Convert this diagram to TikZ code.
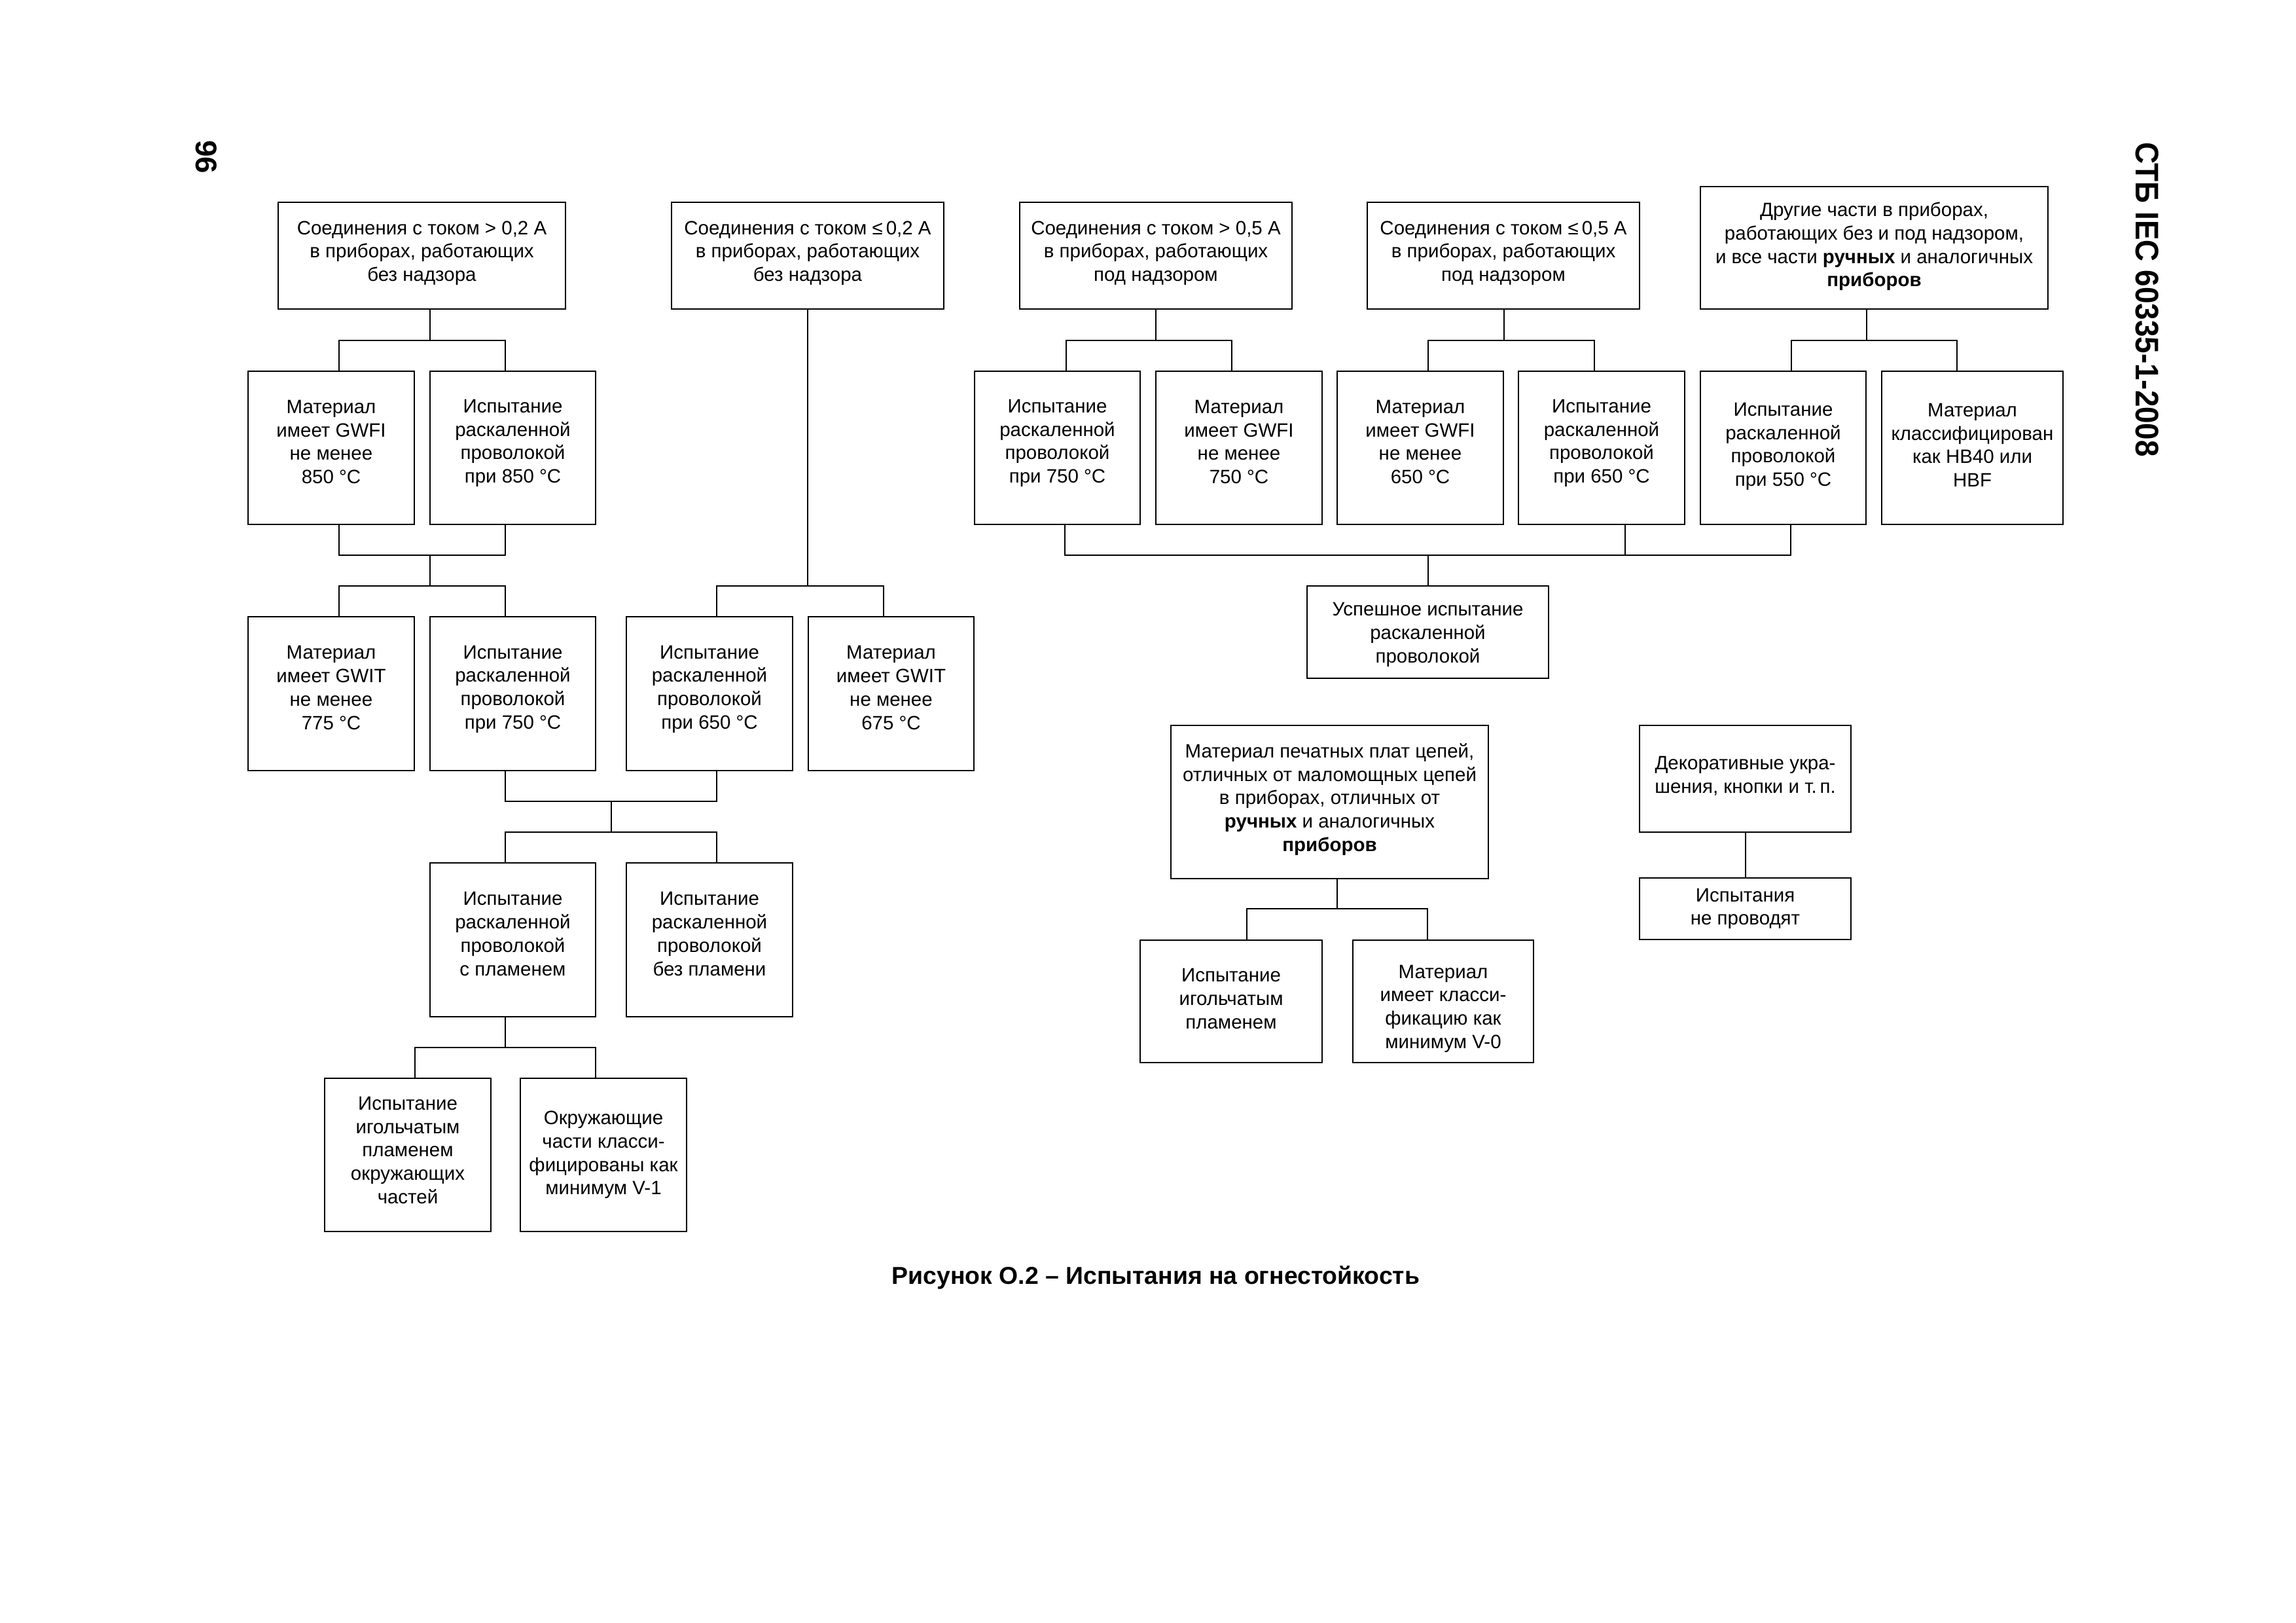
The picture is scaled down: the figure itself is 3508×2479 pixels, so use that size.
\documentclass[tikz,border=0pt]{standalone}
\usepackage{fontspec}
\setmainfont{Liberation Sans}
\newlength\pxu \setlength\pxu{0.0846667mm}
\newcommand\fs{\fontsize{7.1}{8.6}\selectfont}
% name, x1, y1, x2, y2, text shift (px, down), text
\newcommand\bnode[7]{%
  \node[box, minimum width={(#4-#2)*\pxu}, minimum height={(#5-#3)*\pxu}] (#1) at ({(#2+#4)/2},{(#3+#5)/2}) {};
  \node[lbl] (#1t) at ({(#2+#4)/2},{(#3+#5)/2+#6}) {#7};}
\tikzset{
  box/.style={draw, line width=0.5pt, inner sep=0pt},
  lbl/.style={inner sep=0pt, align=center, font=\fs},
  conn/.style={line width=0.5pt},
}
\begin{document}
\begin{tikzpicture}[x=\pxu, y=-\pxu]
\useasboundingbox (0,0) rectangle (3508,2479);
% page number and header
\node[rotate=-90, font=\bfseries\fontsize{11}{13}\selectfont, inner sep=0pt] (pg) at (315,240) {96};
\node[rotate=-90, font=\bfseries\fontsize{12}{14}\selectfont\addfontfeature{FakeStretch=0.92}, inner sep=0pt] (hdr) at (3281,458) {СТБ IEC 60335-1-2008};
% top row
\bnode{A1}{425}{309}{864}{472}{-4}{Соединения с током > 0,2 А\\в приборах, работающих\\без надзора}
\bnode{A2}{1026}{309}{1442}{472}{-4}{Соединения с током ≤\,0,2 А\\в приборах, работающих\\без надзора}
\bnode{A3}{1558}{309}{1974}{472}{-4}{Соединения с током > 0,5 А\\в приборах, работающих\\под надзором}
\bnode{A4}{2089}{309}{2505}{472}{-4}{Соединения с током ≤\,0,5 А\\в приборах, работающих\\под надзором}
\bnode{A5}{2598}{285}{3129}{472}{-2}{Другие части в приборах,\\работающих без и под надзором,\\и все части \textbf{ручных} и аналогичных\\\textbf{приборов}}
% row 2
\bnode{B1}{379}{567}{633}{801}{-9}{Материал\\имеет GWFI\\не менее\\850 °C}
\bnode{B2}{657}{567}{910}{801}{-7}{Испытание\\раскаленной\\проволокой\\при 850 °C}
\bnode{B3}{1489}{567}{1742}{801}{-7}{Испытание\\раскаленной\\проволокой\\при 750 °C}
\bnode{B4}{1766}{567}{2020}{801}{-9}{Материал\\имеет GWFI\\не менее\\750 °C}
\bnode{B5}{2043}{567}{2297}{801}{-9}{Материал\\имеет GWFI\\не менее\\650 °C}
\bnode{B6}{2320}{567}{2574}{801}{-7}{Испытание\\раскаленной\\проволокой\\при 650 °C}
\bnode{B7}{2598}{567}{2851}{801}{-2}{Испытание\\раскаленной\\проволокой\\при 550 °C}
\bnode{B8}{2875}{567}{3152}{801}{-4}{Материал\\классифицирован\\как HB40 или\\HBF}
% row 3
\bnode{C1}{379}{942}{633}{1177}{-9}{Материал\\имеет GWIT\\не менее\\775 °C}
\bnode{C2}{657}{942}{910}{1177}{-7}{Испытание\\раскаленной\\проволокой\\при 750 °C}
\bnode{C3}{957}{942}{1211}{1177}{-7}{Испытание\\раскаленной\\проволокой\\при 650 °C}
\bnode{C4}{1235}{942}{1488}{1177}{-9}{Материал\\имеет GWIT\\не менее\\675 °C}
% row 4
\bnode{D1}{657}{1318}{910}{1553}{-9}{Испытание\\раскаленной\\проволокой\\с пламенем}
\bnode{D2}{957}{1318}{1211}{1553}{-9}{Испытание\\раскаленной\\проволокой\\без пламени}
% row 5
\bnode{E1}{496}{1647}{750}{1881}{-7}{Испытание\\игольчатым\\пламенем\\окружающих\\частей}
\bnode{E2}{795}{1647}{1049}{1881}{0}{Окружающие\\части класси-\\фицированы как\\минимум V-1}
% right lower part
\bnode{S}{1997}{895}{2366}{1036}{4}{Успешное испытание\\раскаленной\\проволокой}
\bnode{F1}{1789}{1108}{2274}{1342}{-4}{Материал печатных плат цепей,\\отличных от маломощных цепей\\в приборах, отличных от\\\textbf{ручных} и аналогичных\\\textbf{приборов}}
\bnode{G1}{1742}{1436}{2020}{1623}{-4}{Испытание\\игольчатым\\пламенем}
\bnode{G2}{2067}{1436}{2343}{1623}{11}{Материал\\имеет класси-\\фикацию как\\минимум V-0}
\bnode{F2}{2505}{1108}{2828}{1271}{-4}{Декоративные укра-\\шения, кнопки и т.\,п.}
\bnode{G3}{2505}{1341}{2828}{1435}{0}{Испытания\\не проводят}
% caption
\node[font=\bfseries\fontsize{9}{11}\selectfont, inner sep=0pt] (cap) at (1766,1951) {Рисунок О.2 – Испытания на огнестойкость};
% junction coordinates
\coordinate (a1j) at (657,520); \coordinate (a1l) at (518,520); \coordinate (a1r) at (772,520);
\coordinate (m1l) at (518,848); \coordinate (m1r) at (772,848); \coordinate (m1j) at (657,848);
\coordinate (c1l) at (518,895); \coordinate (c1r) at (772,895); \coordinate (c1j) at (657,895);
\coordinate (a2j) at (1234,895); \coordinate (a2l) at (1095,895); \coordinate (a2r) at (1350,895);
\coordinate (m2l) at (772,1224); \coordinate (m2r) at (1095,1224); \coordinate (m2j) at (934,1224);
\coordinate (d1l) at (772,1271); \coordinate (d1r) at (1095,1271); \coordinate (d1j) at (934,1271);
\coordinate (e1j) at (772,1600); \coordinate (e1l) at (634,1600); \coordinate (e1r) at (910,1600);
\coordinate (a3j) at (1766,520); \coordinate (a3l) at (1629,520); \coordinate (a3r) at (1882,520);
\coordinate (a4j) at (2298,520); \coordinate (a4l) at (2182,520); \coordinate (a4r) at (2436,520);
\coordinate (a5j) at (2852,520); \coordinate (a5l) at (2737,520); \coordinate (a5r) at (2990,520);
\coordinate (sl) at (1627,848); \coordinate (sm) at (2483,848); \coordinate (sr) at (2736,848); \coordinate (sj) at (2182,848);
\coordinate (f1j) at (2043,1388); \coordinate (f1l) at (1905,1388); \coordinate (f1r) at (2181,1388);
\coordinate (f2j) at (2667,1300);
% connectors
\draw[conn] (A1.south -| a1j) -- (a1j);
\draw[conn] (B1.north -| a1l) |- (a1r) -- (B2.north -| a1r);
\draw[conn] (B1.south -| m1l) |- (m1r) -- (B2.south -| m1r);
\draw[conn] (m1j) -- (c1j);
\draw[conn] (C1.north -| c1l) |- (c1r) -- (C2.north -| c1r);
\draw[conn] (A2.south -| a2j) -- (a2j);
\draw[conn] (C3.north -| a2l) |- (a2r) -- (C4.north -| a2r);
\draw[conn] (C2.south -| m2l) |- (m2r) -- (C3.south -| m2r);
\draw[conn] (m2j) -- (d1j);
\draw[conn] (D1.north -| d1l) |- (d1r) -- (D2.north -| d1r);
\draw[conn] (D1.south -| e1j) -- (e1j);
\draw[conn] (E1.north -| e1l) |- (e1r) -- (E2.north -| e1r);
\draw[conn] (A3.south -| a3j) -- (a3j);
\draw[conn] (B3.north -| a3l) |- (a3r) -- (B4.north -| a3r);
\draw[conn] (A4.south -| a4j) -- (a4j);
\draw[conn] (B5.north -| a4l) |- (a4r) -- (B6.north -| a4r);
\draw[conn] (A5.south -| a5j) -- (a5j);
\draw[conn] (B7.north -| a5l) |- (a5r) -- (B8.north -| a5r);
\draw[conn] (B3.south -| sl) |- (sr) -- (B7.south -| sr);
\draw[conn] (B6.south -| sm) -- (sm);
\draw[conn] (sj) -- (S.north -| sj);
\draw[conn] (F1.south -| f1j) -- (f1j);
\draw[conn] (G1.north -| f1l) |- (f1r) -- (G2.north -| f1r);
\draw[conn] (F2.south -| f2j) -- (G3.north -| f2j);
\end{tikzpicture}
\end{document}
